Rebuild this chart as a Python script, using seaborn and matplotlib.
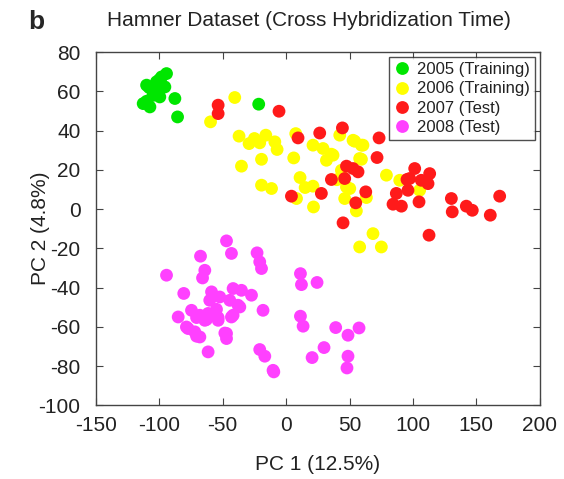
import numpy as np
import pandas as pd
import matplotlib
matplotlib.use("Agg")
import matplotlib.pyplot as plt
import seaborn as sns

# PCA scores, one pair of lists per batch year
x_2005 = [-94.3, -98.2, -102.2, -110.0, -95.6, -103.5, -112.7, -107.4, -99.6,
          -87.7, -85.6, -21.6, -105.0, -108.0, -100.0, -110.0]
y_2005 = [69.1, 67.4, 64.9, 63.2, 62.3, 60.6, 53.8, 52.1, 57.2,
          56.4, 47.0, 53.5, 58.0, 62.0, 66.0, 55.0]

x_2006 = [-40.5, -59.6, -37.1, -29.2, -20.8, -16.0, -8.9, -7.1, -19.4, -35.2,
          6.0, 7.6, 21.2, 29.1, 35.7, 31.8, 52.8, 59.4, 58.0, 79.1,
          -19.4, -11.5, 11.0, 15.0, 21.2, 8.2, 21.6, 47.6, 46.2, 55.4,
          68.5, 58.0, 75.1, 43.6, 42.3, 54.1, 60.6, 37.0, 59.4, 89.6,
          105.3, 50.2, 63.3, -25.0, 40.0]
y_2006 = [56.9, 44.5, 37.2, 33.4, 33.8, 37.7, 34.3, 30.4, 25.4, 21.9,
          26.1, 38.5, 32.6, 30.9, 28.0, 24.9, 35.1, 32.6, 25.8, 17.3,
          12.2, 10.5, 16.1, 11.0, 11.7, 5.4, 1.1, 11.3, 5.4, -0.9,
          -12.5, -19.3, -19.3, 19.8, 37.7, 34.6, 32.6, 27.5, 25.4, 14.7,
          9.6, 10.5, 5.9, 36.0, 15.0]

x_2007 = [-53.6, -53.6, -5.6, 9.4, 26.5, 44.4, 73.3, 71.7, 47.6, 52.8,
          56.7, 35.7, 46.2, 27.8, 4.2, 62.8, 54.9, 44.9, 101.4, 113.2,
          97.4, 106.6, 111.9, 86.9, 96.1, 84.3, 90.9, 104.8, 112.7, 130.3,
          131.0, 142.1, 146.8, 161.0, 168.4, 95.3]
y_2007 = [53.0, 48.7, 49.9, 36.3, 38.8, 41.4, 36.3, 26.3, 21.9, 20.7,
          19.0, 15.1, 15.6, 8.0, 6.6, 8.8, 3.2, -7.0, 20.7, 18.1,
          15.6, 14.7, 13.0, 8.0, 9.6, 2.5, 1.5, 3.7, -13.3, 5.4,
          -1.4, 1.5, -0.6, -3.1, 6.6, 15.1]

x_2008 = [-47.0, -43.1, -67.5, -22.9, -20.8, -19.4, -64.1, -65.9, -94.3, -80.7,
          -58.8, -41.8, -35.2, -27.3, -60.2, -44.4, -37.9, -18.2, -74.6, -85.1,
          -70.6, -62.8, -53.6, -41.8, -77.3, -70.6, -48.3, -47.0, -61.5, -20.8,
          -16.8, -9.7, -54.9, -52.3, -68.0, -61.5, -64.1, -53.6, -43.1, -36.5,
          -78.6, -72.0, -68.0, -47.0,
          11.3, 12.1, 24.4, 11.3, 13.4, 39.1, 48.8, 57.5, 29.9, 20.5,
          48.8, 48.0, -10.3]
y_2008 = [-16.2, -22.6, -24.0, -22.3, -26.9, -30.3, -31.2, -35.1, -33.7, -43.0,
          -42.2, -40.5, -41.4, -43.9, -46.5, -46.5, -49.0, -51.6, -51.6, -55.0,
          -55.3, -56.3, -55.3, -54.1, -60.9, -64.8, -63.2, -66.0, -72.8, -71.6,
          -75.0, -83.0, -51.1, -44.8, -54.1, -53.2, -56.7, -56.7, -55.0, -49.9,
          -60.1, -62.6, -65.2, -63.4,
          -32.9, -38.5, -37.4, -54.6, -59.7, -60.4, -64.3, -60.6, -70.6, -75.7,
          -75.0, -81.0, -82.2]

labels = ["2005 (Training)", "2006 (Training)", "2007 (Test)", "2008 (Test)"]
colors = ["#00e600", "#ffff00", "#ff1a1a", "#ff40ff"]

df = pd.concat([
    pd.DataFrame({"PC1": x_2005, "PC2": y_2005, "group": labels[0]}),
    pd.DataFrame({"PC1": x_2006, "PC2": y_2006, "group": labels[1]}),
    pd.DataFrame({"PC1": x_2007, "PC2": y_2007, "group": labels[2]}),
    pd.DataFrame({"PC1": x_2008, "PC2": y_2008, "group": labels[3]}),
], ignore_index=True)

sns.set_style("ticks")
plt.rcParams['font.family'] = ['Liberation Sans', 'DejaVu Sans']
plt.rcParams['axes.unicode_minus'] = False
txt = "#222222"

fig = plt.figure(figsize=(5.64, 4.79), dpi=100)
ax = fig.add_axes([0.170, 0.154, 0.787, 0.737])

sns.scatterplot(data=df, x="PC1", y="PC2", hue="group", hue_order=labels,
                palette=dict(zip(labels, colors)), s=85, linewidth=0,
                alpha=1, ax=ax)

ax.set_xlim(-150, 200)
ax.set_ylim(-100, 80)
ax.set_xticks(np.arange(-150, 201, 50))
ax.set_yticks(np.arange(-100, 81, 20))
ax.tick_params(direction="in", top=True, right=True, length=5,
               labelsize=15, color="#444444", labelcolor=txt)
ax.tick_params(axis="x", pad=8)
ax.tick_params(axis="y", pad=11)
for sp in ax.spines.values():
    sp.set_color("#444444")
    sp.set_linewidth(1.0)

ax.set_xlabel("PC 1 (12.5%)", fontsize=15, color=txt)
ax.set_ylabel("PC 2 (4.8%)", fontsize=15, color=txt)
ax.xaxis.set_label_coords(0.5, -0.142)
ax.yaxis.set_label_coords(-0.104, 0.5)
ax.set_title("Hamner Dataset (Cross Hybridization Time)", fontsize=15,
             pad=19, x=0.48, color=txt)
fig.text(0.05, 0.955, "b", fontsize=19, fontweight="bold", va="center")

leg = ax.legend(loc="upper right", fontsize=12, frameon=True, fancybox=False,
                borderaxespad=0.3, handlelength=1.0, handletextpad=0.4,
                labelspacing=0.25, borderpad=0.3, markerscale=1.0)
leg.get_frame().set_edgecolor("#222222")
leg.get_frame().set_linewidth(1.0)
for t in leg.get_texts():
    t.set_color(txt)

plt.savefig("out.png", dpi=100)
plt.close()
